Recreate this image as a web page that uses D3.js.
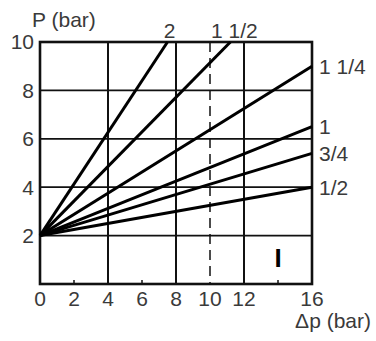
<!DOCTYPE html>
<html>
<head>
  <script src="https://d3js.org/d3.v7.min.js"></script>
  <style>
    body { margin: 0; background: #fff; }
    text { font-family: 'Liberation Sans', Arial, sans-serif; fill: #3a3a3a; }
  </style>
</head>
<body>
  <div id="chart"></div>
  <script>
    // valve sizes and where each line ends (all start at dp=0, P=2)
    var sizes = ["2", "1 1/2", "1 1/4", "1", "3/4", "1/2"];
    var endDp = [7.5, 11.2, 16, 16, 16, 16];
    var endP = [10, 10, 9, 6.5, 5.4, 4];
    var startDp = 0, startP = 2;

    var xGrid = [0, 4, 8, 12, 16];
    var xDashed = [10];
    var xMinor = [2, 6, 14];
    var xTickLabels = [0, 2, 4, 6, 8, 10, 12, 16];
    var yGrid = [2, 4, 6, 8, 10];
    var yTickLabels = [2, 4, 6, 8, 10];

    var width = 376, height = 341;
    var margin = { top: 42, right: 64, bottom: 57, left: 40 };

    var svg = d3.select("#chart").append("svg")
      .attr("width", width)
      .attr("height", height);

    var x = d3.scaleLinear().domain([0, 16]).range([margin.left, width - margin.right]);
    var y = d3.scaleLinear().domain([0, 10]).range([height - margin.bottom, margin.top]);

    // grid
    svg.append("g").selectAll("line").data(xGrid).enter().append("line")
      .attr("x1", d => x(d)).attr("x2", d => x(d))
      .attr("y1", y(0)).attr("y2", y(10))
      .attr("stroke", "#111").attr("stroke-width", 2);

    svg.append("g").selectAll("line").data(yGrid).enter().append("line")
      .attr("x1", x(0)).attr("x2", x(16))
      .attr("y1", d => y(d)).attr("y2", d => y(d))
      .attr("stroke", "#111").attr("stroke-width", 1.8);

    svg.append("g").selectAll("line").data(xDashed).enter().append("line")
      .attr("x1", d => x(d)).attr("x2", d => x(d))
      .attr("y1", y(10)).attr("y2", y(0))
      .attr("stroke", "#111").attr("stroke-width", 1.5)
      .attr("stroke-dasharray", "10,6");

    // small ticks on the bottom
    svg.append("g").selectAll("line").data(xMinor).enter().append("line")
      .attr("x1", d => x(d)).attr("x2", d => x(d))
      .attr("y1", y(0)).attr("y2", y(0) - 4)
      .attr("stroke", "#111").attr("stroke-width", 1.5);

    // frame
    svg.append("rect")
      .attr("x", x(0)).attr("y", y(10))
      .attr("width", x(16) - x(0)).attr("height", y(0) - y(10))
      .attr("fill", "none").attr("stroke", "#111").attr("stroke-width", 2.6);

    // lines
    svg.append("g").selectAll("line").data(sizes).enter().append("line")
      .attr("x1", x(startDp)).attr("y1", y(startP))
      .attr("x2", (d, i) => x(endDp[i])).attr("y2", (d, i) => y(endP[i]))
      .attr("stroke", "#000").attr("stroke-width", 3);

    // line labels
    svg.append("g").selectAll("text").data(sizes).enter().append("text")
      .attr("x", (d, i) => endDp[i] < 16 ? x(endDp[i]) + (i == 0 ? 2 : 4) : x(16) + 7)
      .attr("y", (d, i) => endDp[i] < 16 ? y(10) - 4 : y(endP[i]))
      .attr("dy", (d, i) => endDp[i] < 16 ? 0 : "0.35em")
      .attr("text-anchor", (d, i) => endDp[i] < 16 ? "middle" : "start")
      .attr("font-size", 21)
      .text(d => d);

    // tick labels
    svg.append("g").selectAll("text").data(xTickLabels).enter().append("text")
      .attr("x", d => x(d)).attr("y", y(0) + 22)
      .attr("text-anchor", "middle").attr("font-size", 21)
      .text(d => d);

    svg.append("g").selectAll("text").data(yTickLabels).enter().append("text")
      .attr("x", x(0) - 6).attr("y", d => y(d)).attr("dy", "0.35em")
      .attr("text-anchor", "end").attr("font-size", 21)
      .text(d => d);

    // axis titles
    svg.append("text").attr("x", 32).attr("y", 27)
      .attr("font-size", 21).text("P (bar)");
    svg.append("text").attr("x", 371).attr("y", 328)
      .attr("text-anchor", "end").attr("font-size", 21).text("Δp (bar)");

    // series marker
    svg.append("text").attr("x", x(14)).attr("y", y(0.7))
      .attr("text-anchor", "middle").attr("font-size", 26).attr("font-weight", "bold")
      .style("fill", "#000").text("I");
  </script>
</body>
</html>
